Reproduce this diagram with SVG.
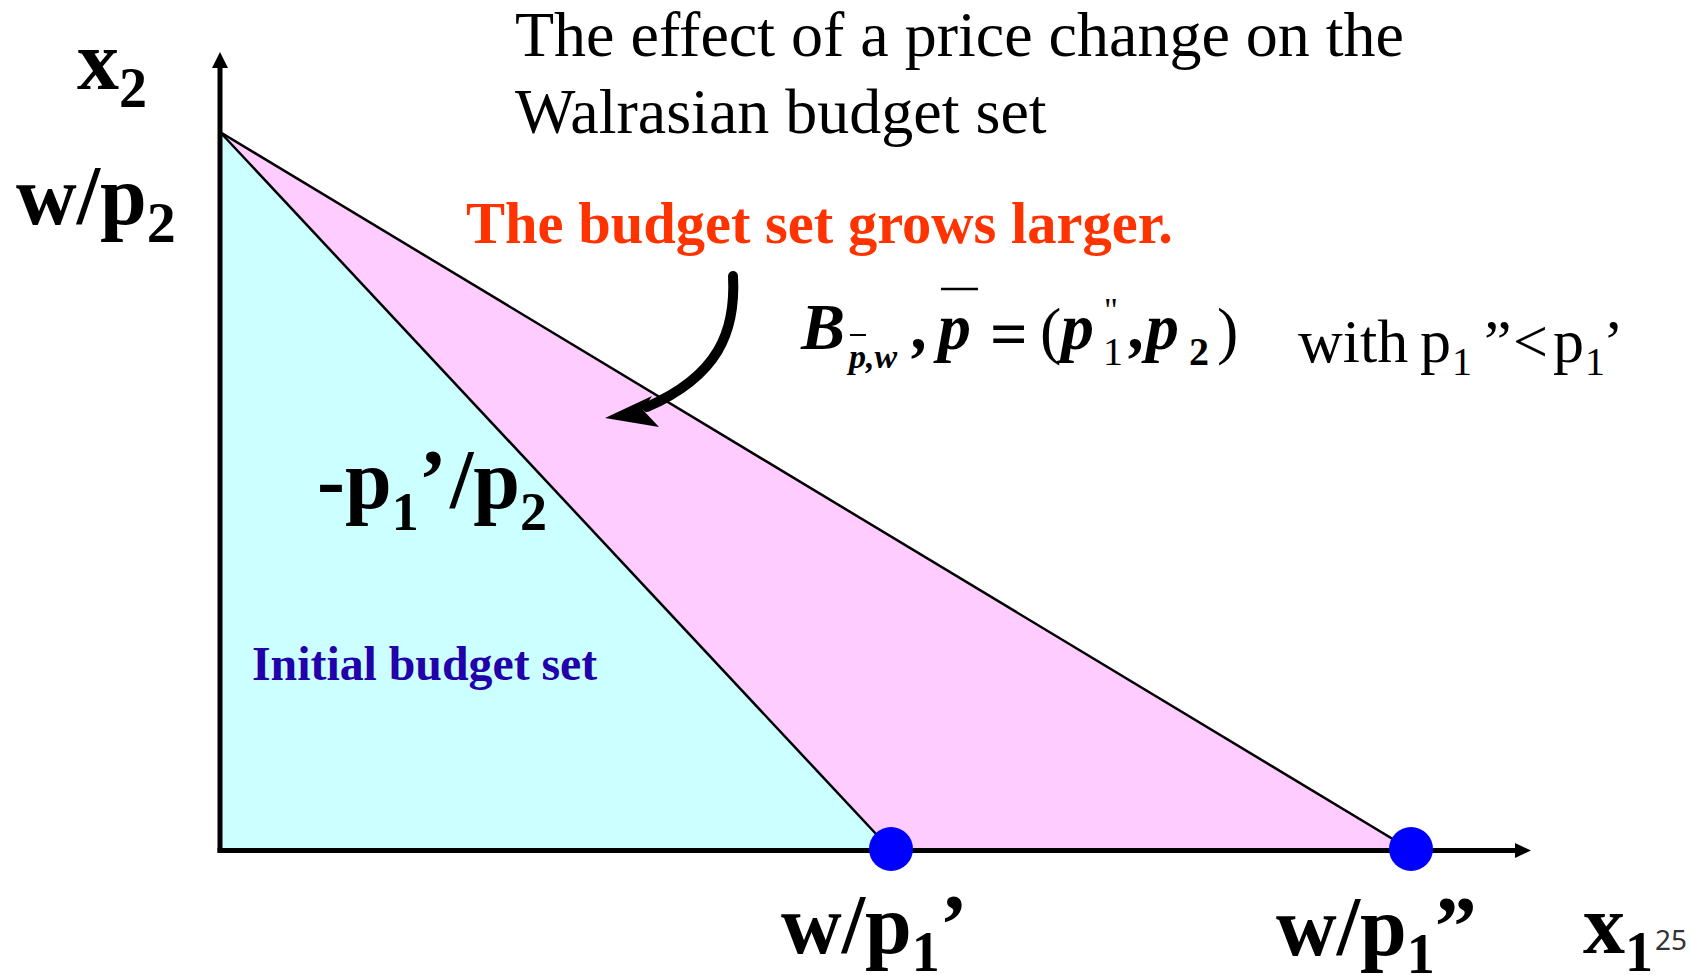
<svg xmlns="http://www.w3.org/2000/svg" width="1692" height="975" viewBox="0 0 1692 975">
<style>
.ser{font-family:"Liberation Serif","Times New Roman",serif;}
.lbl{font-family:"Liberation Serif","Times New Roman",serif;font-weight:bold;font-size:84px;fill:#000;}
.eq{font-family:"Liberation Serif","Times New Roman",serif;fill:#000;}
.it{font-style:italic;font-weight:bold;font-size:66px;}
.edge{stroke:#000;stroke-width:2.5;fill:none;}
.axis{stroke:#000;stroke-width:5;fill:none;}
.dot{fill:#0000FF;}
</style>
<rect width="1692" height="975" fill="#FFFFFF"/>

<g id="initial-set">
<polygon points="220,132 220,850 891,850" fill="#CCFFFF"/>
</g>
<g id="new-set">
<polygon points="220,132 891,850 1411,850" fill="#FFCCFF"/>
</g>

<g id="connectors">
<line class="edge" x1="220" y1="132" x2="891" y2="850"/>
<line class="edge" x1="220" y1="132" x2="1411" y2="850"/>
<line class="axis" x1="220" y1="852.5" x2="220" y2="64"/>
<polygon points="220,52 212,68 228,68" fill="#000"/>
<line class="axis" x1="217.5" y1="850.5" x2="1518" y2="850.5"/>
<polygon points="1531,850.5 1515,843 1515,858" fill="#000"/>
<path d="M733,276 C736,332 718,376 647,407" stroke="#000" stroke-width="10" fill="none" stroke-linecap="round"/>
<polygon points="605,418 652,396 643,410 659,427" fill="#000"/>
</g>

<g id="dot-1"><circle class="dot" cx="891" cy="849" r="22"/></g>
<g id="dot-2"><circle class="dot" cx="1411" cy="849" r="22"/></g>

<g id="title">
<text class="ser" x="515" y="56" font-size="64">The effect of a price change on the</text>
<text class="ser" x="515" y="133" font-size="64">Walrasian budget set</text>
</g>

<g id="grows-note">
<text class="ser" x="466" y="243" font-size="58.5" font-weight="bold" fill="#FF3300">The budget set grows larger.</text>
</g>

<g id="initial-label">
<text class="ser" x="252" y="680" font-size="47.8" font-weight="bold" fill="#2200AA">Initial budget set</text>
</g>

<g id="label-x2">
<text class="lbl" x="77" y="89">x<tspan font-size="56" dy="18">2</tspan></text>
</g>
<g id="label-w-p2">
<text class="lbl" x="16" y="224">w/p<tspan font-size="58" dy="18">2</tspan></text>
</g>
<g id="label-slope">
<text class="lbl" x="317" y="508" font-size="80">-p<tspan font-size="54" dy="22">1</tspan><tspan dy="-22">’</tspan><tspan x="450">/p</tspan><tspan font-size="54" dy="22">2</tspan></text>
</g>
<g id="label-w-p1p">
<text class="lbl" x="781" y="953">w/p<tspan font-size="56" dy="18">1</tspan><tspan dy="-18">’</tspan></text>
</g>
<g id="label-w-p1pp">
<text class="lbl" x="1276" y="955">w/p<tspan font-size="56" dy="18">1</tspan><tspan dy="-18">”</tspan></text>
</g>
<g id="label-x1">
<text class="lbl" x="1583" y="953">x<tspan font-size="56" dy="18">1</tspan></text>
</g>
<g id="page-number">
<text x="1655" y="950" font-family="'Noto Sans','Open Sans',sans-serif" font-size="28" fill="#333333">25</text>
</g>

<g id="formula">
<text class="eq it" x="801" y="349">B</text>
<line x1="850" y1="335" x2="866" y2="335" stroke="#000" stroke-width="2"/>
<text class="eq" font-style="italic" font-weight="bold" font-size="34" x="849" y="368">p,w</text>
<text class="eq it" x="913" y="349">,</text>
<line x1="941" y1="289" x2="978" y2="289" stroke="#000" stroke-width="2.5"/>
<text class="eq it" x="938" y="349">p</text>
<text class="eq" font-weight="bold" font-size="66" x="990" y="356">=</text>
<text class="eq" font-size="64" x="1040" y="352">(</text>
<text class="eq it" x="1061" y="349">p</text>
<text class="eq" font-size="34" x="1104" y="321">"</text>
<text class="eq" font-size="40" x="1103" y="365">1</text>
<text class="eq it" x="1130" y="349">,</text>
<text class="eq it" x="1146" y="349">p</text>
<text class="eq" font-weight="bold" font-size="40" x="1189" y="365">2</text>
<text class="eq" font-size="64" x="1217" y="352">)</text>
</g>

<g id="condition">
<text class="ser" font-size="62" x="1298" y="362">with<tspan x="1420">p</tspan><tspan font-size="40" dy="13" x="1452">1</tspan><tspan dy="-13" x="1484">”</tspan><tspan x="1513">&lt;</tspan><tspan x="1553">p</tspan><tspan font-size="40" dy="13" x="1585">1</tspan><tspan dy="-13" x="1603">’</tspan></text>
</g>
</svg>
